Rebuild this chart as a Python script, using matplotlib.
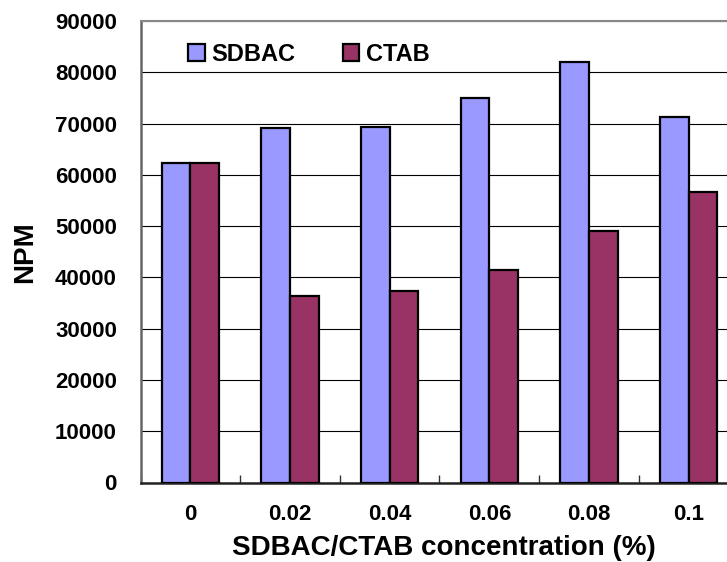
import matplotlib
matplotlib.use("Agg")
import matplotlib.pyplot as plt
import numpy as np

categories = ["0", "0.02", "0.04", "0.06", "0.08", "0.1"]
sdbac = [62300, 69200, 69300, 74900, 82000, 71300]
ctab = [62300, 36400, 37400, 41500, 49000, 56600]
yticks = [0, 10000, 20000, 30000, 40000, 50000, 60000, 70000, 80000, 90000]

plt.rcParams['font.family'] = ['Liberation Sans', 'DejaVu Sans']
plt.rcParams['font.weight'] = 'bold'

W, H = 727, 562
fig = plt.figure(figsize=(W / 100, H / 100), dpi=100)
ax = fig.add_axes([140.5 / W, 1 - 482.5 / H, 598 / W, 461.5 / H])

x = np.arange(len(categories))
bw = 0.286
ax.bar(x - bw / 2, sdbac, bw, color='#9999FF', edgecolor='black', linewidth=1.6, zorder=3, label='SDBAC')
ax.bar(x + bw / 2, ctab, bw, color='#993366', edgecolor='black', linewidth=1.6, zorder=3, label='CTAB')

ax.set_xlim(-0.5, len(categories) - 0.5)
ax.set_ylim(0, 90000)
ax.set_yticks(yticks)
ax.set_yticklabels([str(v) for v in yticks], fontsize=16, fontweight='bold')
ax.tick_params(axis='y', length=0, pad=17)
ax.yaxis.grid(True, color='black', linewidth=0.8, zorder=0)
ax.set_axisbelow(True)

ax.set_xticks(np.arange(-0.5, len(categories), 1.0))
ax.set_xticklabels([])
ax.tick_params(axis='x', which='major', direction='in', length=6, width=1, color='#333333')
ax.set_xticks(x, minor=True)
ax.set_xticklabels(categories, minor=True, fontsize=16, fontweight='bold')
ax.tick_params(axis='x', which='minor', length=0, pad=15.5)

ax.spines['right'].set_visible(False)
ax.spines['top'].set_color('#888888')
ax.spines['top'].set_linewidth(1.5)
ax.spines['left'].set_color('#666666')
ax.spines['left'].set_linewidth(1.8)
ax.spines['bottom'].set_color('#222222')
ax.spines['bottom'].set_linewidth(1.8)

fig.text(25 / W, 1 - 252 / H, 'NPM', rotation=90, ha='center', va='center', fontsize=20, fontweight='bold')
fig.text(443.5 / W, 1 - 555 / H, 'SDBAC/CTAB concentration (%)', ha='center', va='baseline', fontsize=20, fontweight='bold')

leg = fig.legend(loc='center left', bbox_to_anchor=(188 / W, 1 - 54.5 / H), ncol=2, frameon=False,
                 prop={'size': 17, 'weight': 'bold'}, borderpad=0, borderaxespad=0,
                 handlelength=0.7, handleheight=0.7, handletextpad=0.3, columnspacing=2.0)

fig.savefig('out.png', dpi=100)
